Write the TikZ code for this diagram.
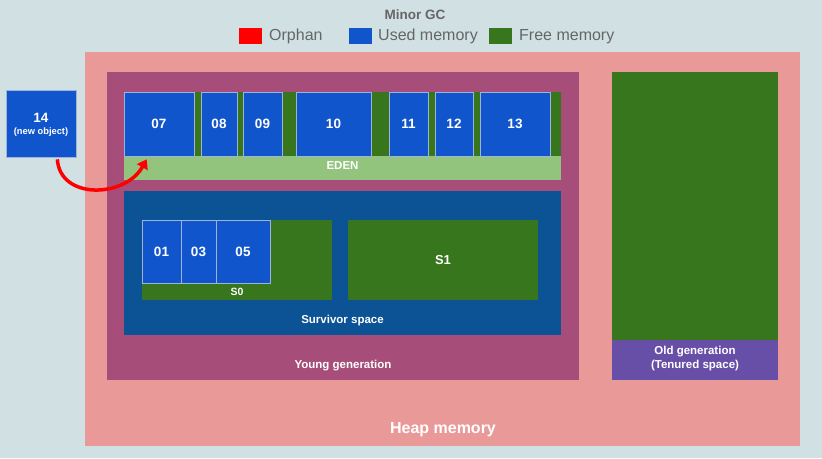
\documentclass[tikz,border=0pt]{standalone}
\usepackage{fontspec}
\setmainfont{Liberation Sans}
\usetikzlibrary{arrows.meta}

\definecolor{bgcol}{HTML}{D0E0E3}
\definecolor{heapcol}{HTML}{EA9999}
\definecolor{youngcol}{HTML}{A64D79}
\definecolor{survcol}{HTML}{0B5394}
\definecolor{usedcol}{HTML}{1155CC}
\definecolor{freecol}{HTML}{38761D}
\definecolor{edencol}{HTML}{93C47D}
\definecolor{oldcol}{HTML}{674EA7}
\definecolor{edgecol}{HTML}{9FB3DA}
\definecolor{greytext}{HTML}{666666}
\definecolor{orphancol}{HTML}{FF0000}

\begin{document}
\begin{tikzpicture}[x=1pt,y=-1pt,
  block/.style={fill=usedcol, draw=edgecol, line width=0.7pt, text=white,
    inner sep=0pt, font=\bfseries\fontsize{13.5}{15}\selectfont},
  lbl/.style={text=white, inner sep=0pt, font=\bfseries\fontsize{11.5}{14}\selectfont},
  key/.style={minimum width=23pt, minimum height=16pt, inner sep=0pt},
  keytext/.style={text=greytext, anchor=west, inner sep=0pt, font=\fontsize{16}{18}\selectfont},
  orphanarrow/.style={orphancol, line width=3.5pt, -{Triangle[length=9pt,width=12pt]}}]
  % background and frame
  \fill[bgcol] (0,0) rectangle (822,458);
  \useasboundingbox (0,0) rectangle (822,458);
  \fill[heapcol] (85,52) rectangle (800,446);
  \fill[youngcol] (107,72) rectangle (579,380);
  % eden
  \fill[freecol] (124,92) rectangle (561,156);
  \fill[edencol] (124,156) rectangle (561,180);
  % survivor space
  \fill[survcol] (124,191) rectangle (561,335);
  \fill[freecol] (142,220) rectangle (332,300);
  \fill[freecol] (348,220) rectangle (538,300);
  % old generation
  \fill[freecol] (612,72) rectangle (778,340);
  \fill[oldcol] (612,340) rectangle (778,380);

  % legend
  \node[text=greytext, font=\bfseries\fontsize{13.5}{15}\selectfont] (title) at (415,15) {Minor GC};
  \node[key, fill=orphancol] (korphan) at (250.5,36) {};
  \node[keytext] (torphan) at (269,36.5) {Orphan};
  \node[key, fill=usedcol] (kused) at (360,36) {};
  \node[keytext] (tused) at (378,36.5) {Used memory};
  \node[key, fill=freecol] (kfree) at (500.5,36) {};
  \node[keytext] (tfree) at (519,36.5) {Free memory};

  % eden blocks
  \node[block, minimum width=70pt, minimum height=64pt] (b07) at (159,124) {07};
  \node[block, minimum width=36pt, minimum height=64pt] (b08) at (219,124) {08};
  \node[block, minimum width=39pt, minimum height=64pt] (b09) at (262.5,124) {09};
  \node[block, minimum width=75pt, minimum height=64pt] (b10) at (333.5,124) {10};
  \node[block, minimum width=39pt, minimum height=64pt] (b11) at (408.5,124) {11};
  \node[block, minimum width=38pt, minimum height=64pt] (b12) at (454,124) {12};
  \node[block, minimum width=70pt, minimum height=64pt] (b13) at (515,124) {13};
  \node[lbl] (eden) at (342.5,166) {EDEN};

  % survivor blocks
  \node[block, minimum width=39pt, minimum height=63pt] (b01) at (161.5,251.5) {01};
  \node[block, minimum width=35pt, minimum height=63pt] (b03) at (198.5,251.5) {03};
  \node[block, minimum width=54pt, minimum height=63pt] (b05) at (243,251.5) {05};
  \node[lbl, font=\bfseries\fontsize{10.5}{12}\selectfont] (s0) at (237,292) {S0};
  \node[lbl, font=\bfseries\fontsize{13}{15}\selectfont] (s1) at (443,260) {S1};
  \node[lbl] (surv) at (342.5,321) {Survivor space};

  % generations and heap
  \node[lbl] (young) at (343,366) {Young generation};
  \node[lbl, align=center] (old) at (695,359) {Old generation\\(Tenured space)};
  \node[lbl, font=\bfseries\fontsize{16}{18}\selectfont] (heap) at (443,430) {Heap memory};

  % new object
  \node[block, minimum width=70pt, minimum height=67pt] (b14) at (41,123.5) {};
  \node[lbl, font=\bfseries\fontsize{13.5}{15}\selectfont] (n14) at (41,118) {14};
  \node[lbl, font=\bfseries\fontsize{9.3}{11}\selectfont] (newobj) at (41,132) {(new object)};
  \draw[orphanarrow] ([xshift=-19pt,yshift=-2pt]b14.south east)
    .. controls (60,200) and (125,198) .. ([xshift=23pt,yshift=-3pt]b07.south west);
\end{tikzpicture}
\end{document}
